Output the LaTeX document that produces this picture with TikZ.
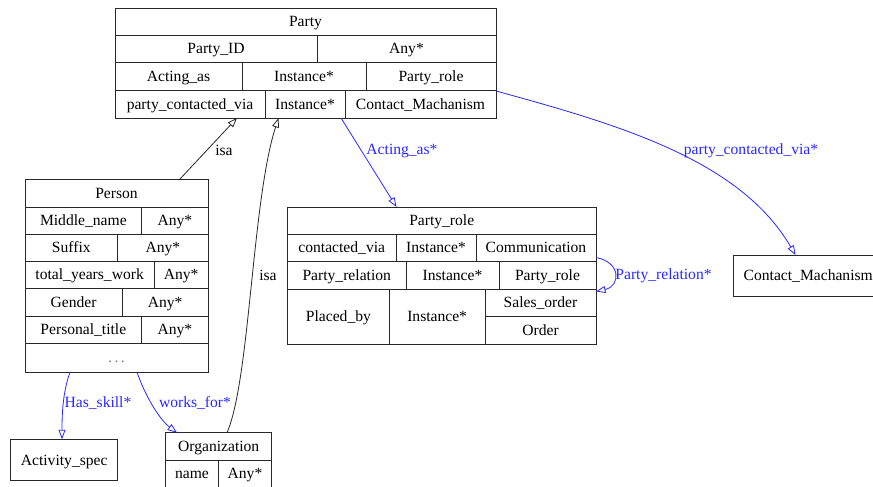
\documentclass[tikz,border=0pt]{standalone}
\usepackage{fontspec}
\setmainfont{Liberation Serif}
\usetikzlibrary{arrows.meta}
\definecolor{edgeblue}{RGB}{40,40,255}
\definecolor{linegray}{RGB}{40,40,40}
\newcommand\cellbox[6]{%
  \pgfmathsetmacro\cw{#4-#2}\pgfmathsetmacro\ch{#5-#3}%
  \node[cell, minimum width=\cw pt, minimum height=\ch pt] (#1) at ({(#2+#4)/2},{(#3+#5)/2}) {#6};}
\tikzset{
  cell/.style={draw=linegray, line width=0.9pt, rectangle, inner sep=0pt, text height=12.4pt, text depth=2pt, font=\fontsize{15.6}{18}\selectfont},
  tip/.style={-{Triangle[open,length=9.5pt,width=7pt]}},
  isaedge/.style={tip, draw=linegray, line width=0.8pt},
  reledge/.style={tip, draw=edgeblue, line width=0.8pt},
  isalabel/.style={inner sep=0pt, text height=12.4pt, text depth=2pt, font=\fontsize{15.6}{18}\selectfont},
  rellabel/.style={inner sep=0pt, text height=12.4pt, text depth=2pt, text=edgeblue, font=\fontsize{15.6}{18}\selectfont},
}
\begin{document}
\begin{tikzpicture}[x=1pt,y=-1pt]
\useasboundingbox (0,0) rectangle (873,487);
\clip (0,0) rectangle (873,487);
% Party
\cellbox{party}{115}{8}{496}{35}{Party}
\cellbox{pid}{115}{35}{317}{62}{Party\_ID}
\cellbox{pidt}{317}{35}{496}{62}{Any*}
\cellbox{pact}{115}{62}{242}{90}{Acting\_as}
\cellbox{pactt}{242}{62}{366}{90}{Instance*}
\cellbox{pactr}{366}{62}{496}{90}{Party\_role}
\cellbox{pcv}{115}{90}{265}{118}{party\_contacted\_via}
\cellbox{pcvt}{265}{90}{345}{118}{Instance*}
\cellbox{pcvr}{345}{90}{496}{118}{Contact\_Machanism}
% Person
\cellbox{person}{25}{179}{208}{207}{Person}
\cellbox{mn}{25}{207}{141.7}{234}{Middle\_name}
\cellbox{mnt}{141.7}{207}{208}{234}{Any*}
\cellbox{sf}{25}{234}{117.7}{261}{Suffix}
\cellbox{sft}{117.7}{234}{208}{261}{Any*}
\cellbox{ty}{25}{261}{154.3}{288.5}{total\_years\_work}
\cellbox{tyt}{154.3}{261}{208}{288.5}{Any*}
\cellbox{gd}{25}{288.5}{122.3}{316}{Gender}
\cellbox{gdt}{122.3}{288.5}{208}{316}{Any*}
\cellbox{pt}{25}{316}{141.7}{343.5}{Personal\_title}
\cellbox{ptt}{141.7}{316}{208}{343.5}{Any*}
\cellbox{dots}{25}{343.5}{208}{372}{\textcolor{gray}{.\hspace{2.5pt}.\hspace{2.5pt}.}}
% Party_role
\cellbox{prole}{287.5}{207}{596}{234}{Party\_role}
\cellbox{cv}{287.5}{234}{396}{261.5}{contacted\_via}
\cellbox{cvt}{396}{234}{476}{261.5}{Instance*}
\cellbox{cvr}{476}{234}{596}{261.5}{Communication}
\cellbox{prel}{287.5}{261.5}{406}{289}{Party\_relation}
\cellbox{prelt}{406}{261.5}{499}{289}{Instance*}
\cellbox{prelr}{499}{261.5}{596}{289}{Party\_role}
\cellbox{pb}{287.5}{289}{389.3}{344}{Placed\_by}
\cellbox{pbt}{389.3}{289}{485}{344}{Instance*}
\cellbox{so}{485}{289}{596}{316.5}{Sales\_order}
\cellbox{ord}{485}{316.5}{596}{344}{Order}
% Contact_Machanism
\cellbox{cm}{733.5}{255}{883}{296}{Contact\_Machanism}
% Activity_spec
\cellbox{act}{10.7}{439.3}{117.7}{480.7}{Activity\_spec}
% Organization
\cellbox{org}{165.7}{432.7}{271.7}{460}{Organization}
\cellbox{orgn}{165.7}{460}{218.3}{487.5}{name}
\cellbox{orgt}{218.3}{460}{271.7}{487.5}{Any*}
% ports
\coordinate (perTop) at (180,179);
\coordinate (pIn1) at (237,118);
\coordinate (orgTop) at (227,432.7);
\coordinate (pIn2) at (278.5,118);
\coordinate (pAct) at (341,118);
\coordinate (prTop) at (396.5,207);
\coordinate (pCm) at (496,91);
\coordinate (cmTop) at (795.5,255);
\coordinate (prR1) at (596,257.5);
\coordinate (prR2) at (596,291.5);
\coordinate (perB1) at (70,372);
\coordinate (asTop) at (62,439.3);
\coordinate (perB2) at (137,372);
\coordinate (orgTl) at (177,432.7);
% edges
\draw[isaedge] (perTop) -- (pIn1);
\node[isalabel] (l1) at (224,150) {isa};
\draw[isaedge] (orgTop) .. controls (250,380) and (252,200) .. (pIn2);
\node[isalabel] (l2) at (268,275) {isa};
\draw[reledge] (pAct) -- (prTop);
\node[rellabel] (l3) at (402,149) {Acting\_as*};
\draw[reledge] (pCm) .. controls (620,125) and (740,160) .. (cmTop);
\node[rellabel] (l4) at (751,149) {party\_contacted\_via*};
\draw[reledge] (prR1) .. controls (621,262) and (621,286) .. (prR2);
\node[rellabel] (l5) at (663.5,274) {Party\_relation*};
\draw[reledge] (perB1) .. controls (63,392) and (62,412) .. (asTop);
\node[rellabel] (l6) at (98,402) {Has\_skill*};
\draw[reledge] (perB2) .. controls (145,396) and (160,420) .. (orgTl);
\node[rellabel] (l7) at (195,402) {works\_for*};
\end{tikzpicture}
\end{document}
